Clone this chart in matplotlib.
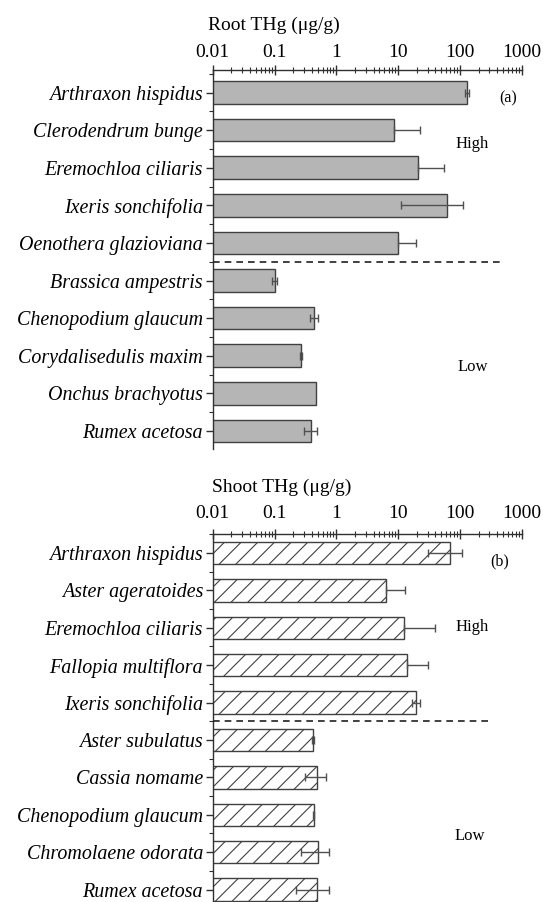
import numpy as np
import matplotlib
matplotlib.use("Agg")
import matplotlib.pyplot as plt
from matplotlib.ticker import LogLocator, NullFormatter, FixedLocator

plt.rcParams['font.family'] = ['Liberation Serif', 'DejaVu Serif']
plt.rcParams['hatch.color'] = '#555555'
plt.rcParams['hatch.linewidth'] = 0.8

# root THg (ug/g), mean and sd
root_species = ["Arthraxon hispidus", "Clerodendrum bunge", "Eremochloa ciliaris",
                "Ixeris sonchifolia", "Oenothera glazioviana", "Brassica ampestris",
                "Chenopodium glaucum", "Corydalisedulis maxim", "Onchus brachyotus",
                "Rumex acetosa"]
root_mean = [130, 8.5, 21, 62, 9.8, 0.10, 0.44, 0.27, 0.47, 0.39]
root_sd = [8, 13.7, 34, 51, 9.9, 0.01, 0.07, 0.01, 0.0, 0.09]

# shoot THg (ug/g), mean and sd
shoot_species = ["Arthraxon hispidus", "Aster ageratoides", "Eremochloa ciliaris",
                 "Fallopia multiflora", "Ixeris sonchifolia", "Aster subulatus",
                 "Cassia nomame", "Chenopodium glaucum", "Chromolaene odorata",
                 "Rumex acetosa"]
shoot_mean = [70, 6.3, 12.5, 14.1, 19.7, 0.42, 0.49, 0.43, 0.51, 0.49]
shoot_sd = [40, 6.5, 26.6, 16.4, 3.2, 0.01, 0.18, 0.005, 0.24, 0.27]

W, H = 543, 902
fig = plt.figure(figsize=(W / 100, H / 100), dpi=100)


def panel(rect, species, mean, sd, title, tag, ylim, split_end, style,
          tick_pad, title_x, notes):
    ax = fig.add_axes(rect)
    y = np.arange(len(species))
    mean = np.array(mean)
    sd = np.array(sd)
    # lower half of the error bar is dropped when it would go below zero
    lower = np.where(mean - sd > 0, sd, 0)
    if style == "solid":
        ax.barh(y, mean, height=0.6, left=0.001, color="#b5b5b5",
                edgecolor="#404040", linewidth=1.0, zorder=2)
    else:
        ax.barh(y, mean, height=0.6, left=0.001, color="white", hatch="//",
                edgecolor="#404040", linewidth=1.0, zorder=2)
    has = sd > 0
    ax.errorbar(mean[has], y[has], xerr=[lower[has], sd[has]], fmt="none",
                ecolor="#505050", elinewidth=1.0, capsize=3, capthick=1.0,
                zorder=3)
    ax.set_xscale("log")
    ax.set_xlim(0.01, 1000)
    ax.set_ylim(*ylim)
    ax.set_yticks(y)
    ax.set_yticklabels(species, fontsize=14.4, style="italic")
    ax.yaxis.set_minor_locator(FixedLocator(np.arange(-0.5, len(species), 1)))
    ax.xaxis.set_ticks_position("top")
    ax.xaxis.set_label_position("top")
    ax.set_xticks([0.01, 0.1, 1, 10, 100, 1000])
    ax.set_xticklabels(["0.01", "0.1", "1", "10", "100", "1000"], fontsize=14)
    ax.xaxis.set_minor_locator(LogLocator(base=10, subs=np.arange(2, 10), numticks=20))
    ax.xaxis.set_minor_formatter(NullFormatter())
    ax.tick_params(axis="x", which="major", direction="inout", length=7,
                   width=1.0, pad=tick_pad, color="#303030")
    ax.tick_params(axis="x", which="minor", direction="inout", length=4,
                   width=0.8, color="#303030")
    ax.tick_params(axis="y", which="major", direction="out", length=5,
                   width=1.0, pad=2, color="#303030")
    ax.tick_params(axis="y", which="minor", direction="out", length=3,
                   width=0.8, color="#303030")
    ax.set_xlabel(title, fontsize=14, labelpad=10, loc="left")
    ax.xaxis.label.set_x(title_x)
    for s in ("right", "bottom"):
        ax.spines[s].set_visible(False)
    for s in ("top", "left"):
        ax.spines[s].set_linewidth(1.0)
        ax.spines[s].set_color("#303030")
    ax.hlines(4.5, 0.01, split_end, colors="#202020", linestyles=(0, (4, 3)),
              linewidth=1.2, zorder=4)
    # panel tag and group names: (text, x in axes fraction, y in bar units, size)
    for text, tx, ty, size in [(tag,) + notes[0], ("High",) + notes[1],
                               ("Low",) + notes[2]]:
        ax.text(tx, ty, text, transform=ax.get_yaxis_transform(), fontsize=size,
                ha="center", va="center")
    return ax


x0, x1 = 212.7 / W, 521.7 / W
panel([x0, 1 - 449 / H, x1 - x0, (449 - 70) / H], root_species, root_mean, root_sd,
      "Root THg (\u03bcg/g)", "(a)", (9.48, -0.6), 500, "solid", 3, -0.014,
      [(0.955, 0.15, 11.5), (0.838, 1.37, 12), (0.842, 7.3, 12)])
panel([x0, 1 - 908.3 / H, x1 - x0, (908.3 - 534.3) / H], shoot_species, shoot_mean,
      shoot_sd, "Shoot THg (\u03bcg/g)", "(b)", (9.5, -0.5), 280, "hatch", 5, -0.003,
      [(0.928, 0.23, 11.5), (0.838, 1.97, 12), (0.833, 7.58, 12)])

fig.savefig("out.png", dpi=100)
